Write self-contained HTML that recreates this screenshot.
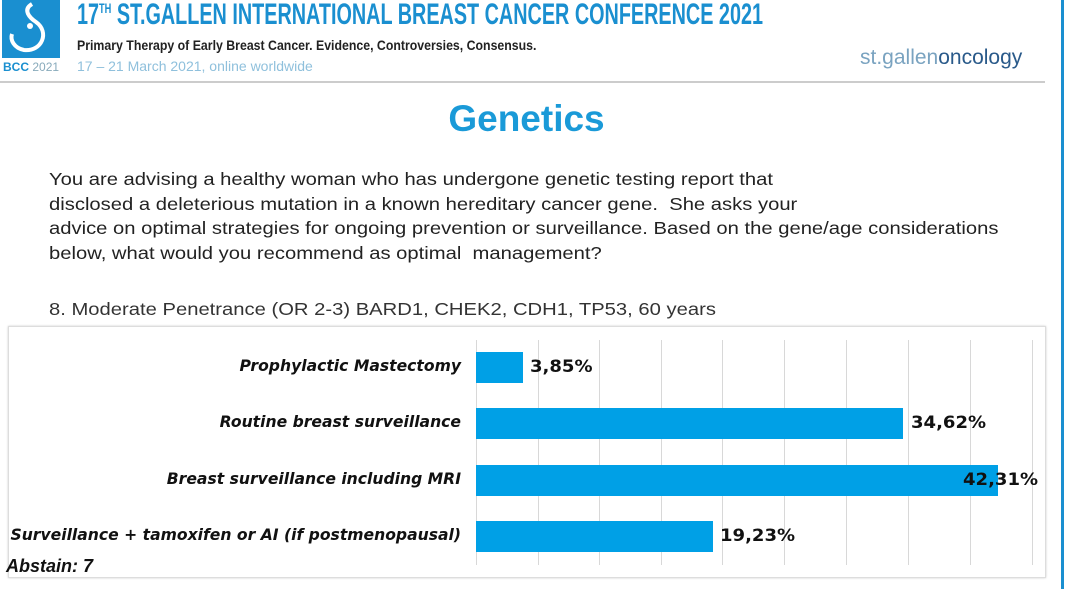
<!DOCTYPE html>
<html><head><meta charset="utf-8"><style>
body{margin:0;width:1067px;height:589px;background:#fff;position:relative;overflow:hidden;font-family:"Liberation Sans",sans-serif}
.a{position:absolute}
.gl{position:absolute;top:340px;height:225px;width:1px;background:#d8d8d8}
.bar{position:absolute;left:476px;background:#00a0e6;height:31px}
.lab{position:absolute;right:606px;font-family:"DejaVu Sans",sans-serif;font-style:italic;font-weight:bold;font-size:15.6px;color:#111;white-space:nowrap}
.val{position:absolute;font-family:"DejaVu Sans",sans-serif;font-weight:bold;font-size:17px;color:#111;transform:scaleX(1.06);transform-origin:left}
</style></head><body>
<div class="a" style="left:2px;top:0;width:58px;height:58px;background:#1a8fd0"></div>
<svg class="a" style="left:2px;top:0" width="58" height="58"><path d="M30 4 C20 10 28 18 34 22 C48 32 40 52 22 50 C12 48 8 40 10 34" stroke="#fff" stroke-width="4" fill="none"/><circle cx="28" cy="26" r="3" fill="#fff"/></svg>
<div class="a" style="left:3px;top:60px;font-size:12px;color:#1a8fd0;font-weight:bold">BCC <span style="font-weight:normal;color:#8ab">2021</span></div>
<div class="a" style="left:77px;top:-2px;font-size:30px;font-weight:bold;color:#1a8fd0;transform:scaleX(0.66);transform-origin:left;white-space:nowrap">17<sup style="font-size:14px">TH</sup> ST.GALLEN INTERNATIONAL BREAST CANCER CONFERENCE 2021</div>
<div class="a" style="left:77px;top:37px;font-size:14px;font-weight:bold;color:#222;transform:scaleX(0.88);transform-origin:left;white-space:nowrap">Primary Therapy of Early Breast Cancer. Evidence, Controversies, Consensus.</div>
<div class="a" style="left:77px;top:58px;font-size:14px;color:#8fc0dc;white-space:nowrap">17 – 21 March 2021, online worldwide</div>
<div class="a" style="left:860px;top:46px;font-size:21px;color:#7aa3c0;white-space:nowrap">st.gallen<span style="color:#2a5a8a">oncology</span></div>
<div class="a" style="left:0;top:81px;width:1045px;height:2px;background:#ccc"></div>
<div class="a" style="left:1061px;top:0;width:3px;height:589px;background:#1a8fd0"></div>
<div class="a" style="left:0;top:98px;width:1053px;text-align:center;font-size:37px;font-weight:bold;color:#1a9ad8">Genetics</div>
<div class="a" style="left:49px;top:167px;font-size:17.5px;line-height:24.5px;color:#222;white-space:nowrap;transform:scaleX(1.155);transform-origin:left">You are advising a healthy woman who has undergone genetic testing report that<br>disclosed a deleterious mutation in a known hereditary cancer gene.&nbsp; She asks your<br>advice on optimal strategies for ongoing prevention or surveillance. Based on the gene/age considerations<br>below, what would you recommend as optimal&nbsp; management?</div>
<div class="a" style="left:49px;top:299px;font-size:17.5px;color:#333;white-space:nowrap;transform:scaleX(1.155);transform-origin:left">8. Moderate Penetrance (OR 2-3) BARD1, CHEK2, CDH1, TP53, 60 years</div>
<div class="a" style="left:8px;top:326px;width:1036px;height:250px;border:1px solid #ddd;box-shadow:0 0 2px #ccc"></div>
<div class="gl" style="left:476px"></div><div class="gl" style="left:538px"></div><div class="gl" style="left:599px"></div><div class="gl" style="left:661px"></div><div class="gl" style="left:722px"></div><div class="gl" style="left:784px"></div><div class="gl" style="left:846px"></div><div class="gl" style="left:908px"></div><div class="gl" style="left:970px"></div><div class="gl" style="left:1032px"></div>
<div class="bar" style="top:352px;width:47px"></div>
<div class="bar" style="top:408px;width:427px"></div>
<div class="bar" style="top:465px;width:522px"></div>
<div class="bar" style="top:521px;width:237px"></div>
<div class="lab" style="top:357px">Prophylactic Mastectomy</div>
<div class="lab" style="top:413px">Routine breast surveillance</div>
<div class="lab" style="top:470px">Breast surveillance including MRI</div>
<div class="lab" style="top:526px">Surveillance + tamoxifen or AI (if postmenopausal)</div>
<div class="val" style="left:530px;top:357px">3,85%</div>
<div class="val" style="left:911px;top:413px">34,62%</div>
<div class="val" style="left:963px;top:470px">42,31%</div>
<div class="val" style="left:720px;top:526px">19,23%</div>
<div class="a" style="left:6px;top:556px;font-size:18px;font-style:italic;font-weight:bold;color:#111">Abstain: 7</div>
</body></html>
